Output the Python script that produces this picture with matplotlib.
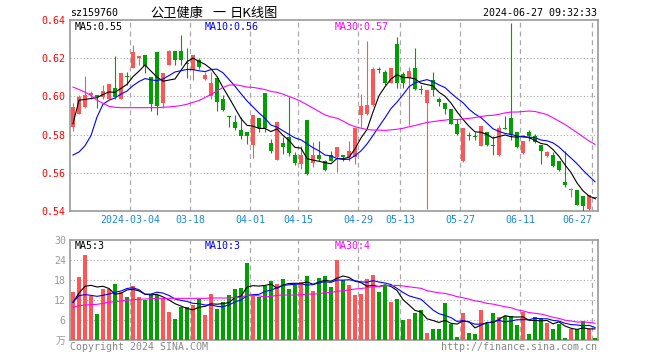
import pandas as pd
import matplotlib
matplotlib.use('Agg')
import matplotlib.pyplot as plt

# Daily K-line data for sz159760, 2024-02-19 .. 2024-06-27 (88 trading days)
opens = [0.5839, 0.5910, 0.5945, 0.6006, 0.6008, 0.5998, 0.5989, 0.6045, 0.5985, 0.6108,
         0.6151, 0.6200, 0.6218, 0.6103, 0.6230, 0.5966, 0.6165, 0.6240, 0.6240, 0.6177,
         0.6138, 0.6191, 0.6089, 0.6003, 0.6098, 0.5989, 0.5897, 0.5866, 0.5825, 0.5811,
         0.5746, 0.5887, 0.6019, 0.5756, 0.5669, 0.5756, 0.5786, 0.5693, 0.5644, 0.5874,
         0.5651, 0.5693, 0.5660, 0.5693, 0.5684, 0.5693, 0.5681, 0.5681, 0.5904, 0.5910,
         0.5954, 0.6142, 0.6130, 0.6068, 0.6274, 0.6116, 0.6094, 0.6151, 0.6038, 0.5966,
         0.6086, 0.5989, 0.5966, 0.5936, 0.5857, 0.5660, 0.5795, 0.5792, 0.5742, 0.5813,
         0.5746, 0.5693, 0.5836, 0.5889, 0.5813, 0.5702, 0.5813, 0.5792, 0.5748, 0.5690,
         0.5695, 0.5660, 0.5552, 0.5512, 0.5510, 0.5478, 0.5413, 0.5473]
highs = [0.5966, 0.6006, 0.6107, 0.6029, 0.6008, 0.6059, 0.6064, 0.6209, 0.6121, 0.6130,
         0.6270, 0.6209, 0.6218, 0.6103, 0.6230, 0.6121, 0.6244, 0.6240, 0.6320, 0.6253,
         0.6218, 0.6200, 0.6130, 0.6130, 0.6098, 0.6006, 0.5897, 0.5901, 0.5892, 0.5811,
         0.5904, 0.5887, 0.6019, 0.5778, 0.5866, 0.5786, 0.5998, 0.5707, 0.5742, 0.5874,
         0.5760, 0.5769, 0.5667, 0.5716, 0.5734, 0.5693, 0.5764, 0.5834, 0.6010, 0.6288,
         0.6156, 0.6152, 0.6138, 0.6151, 0.6311, 0.6130, 0.6156, 0.6253, 0.6059, 0.6033,
         0.6130, 0.5998, 0.5966, 0.5936, 0.5883, 0.5834, 0.5813, 0.5813, 0.5844, 0.5813,
         0.5795, 0.5848, 0.5897, 0.6385, 0.5813, 0.5765, 0.5825, 0.5804, 0.5748, 0.5716,
         0.5707, 0.5660, 0.5716, 0.5522, 0.5510, 0.5478, 0.5482, 0.5473]
lows = [0.5818, 0.5906, 0.5941, 0.5989, 0.5941, 0.5989, 0.5984, 0.5989, 0.5984, 0.6059,
        0.6147, 0.6165, 0.6121, 0.5922, 0.5901, 0.5941, 0.6165, 0.6165, 0.6165, 0.6094,
        0.6086, 0.6142, 0.6086, 0.5989, 0.5922, 0.5922, 0.5839, 0.5822, 0.5778, 0.5751,
        0.5677, 0.5813, 0.5813, 0.5702, 0.5669, 0.5698, 0.5690, 0.5640, 0.5619, 0.5589,
        0.5632, 0.5663, 0.5610, 0.5660, 0.5602, 0.5663, 0.5663, 0.5646, 0.5839, 0.5904,
        0.5948, 0.6124, 0.6059, 0.6068, 0.6042, 0.6042, 0.5848, 0.6033, 0.6012, 0.5413,
        0.6003, 0.5948, 0.5906, 0.5853, 0.5799, 0.5654, 0.5774, 0.5772, 0.5739, 0.5742,
        0.5695, 0.5690, 0.5827, 0.5772, 0.5730, 0.5698, 0.5764, 0.5756, 0.5646, 0.5684,
        0.5628, 0.5607, 0.5526, 0.5475, 0.5431, 0.5399, 0.5403, 0.5461]
closes = [0.5945, 0.5998, 0.6006, 0.6019, 0.5998, 0.6029, 0.6064, 0.5998, 0.6121, 0.6103,
          0.6230, 0.6209, 0.6160, 0.5959, 0.5948, 0.6121, 0.6240, 0.6188, 0.6188, 0.6170,
          0.6218, 0.6152, 0.6112, 0.6068, 0.5971, 0.5927, 0.5892, 0.5834, 0.5795, 0.5795,
          0.5904, 0.5834, 0.5834, 0.5712, 0.5866, 0.5734, 0.5702, 0.5651, 0.5693, 0.5593,
          0.5693, 0.5672, 0.5614, 0.5663, 0.5734, 0.5684, 0.5712, 0.5834, 0.5948, 0.5954,
          0.6144, 0.6138, 0.6068, 0.6151, 0.6068, 0.6068, 0.6135, 0.6038, 0.6035, 0.6033,
          0.6033, 0.5971, 0.5932, 0.5857, 0.5804, 0.5834, 0.5792, 0.5786, 0.5844, 0.5746,
          0.5739, 0.5834, 0.5827, 0.5800, 0.5734, 0.5765, 0.5792, 0.5760, 0.5716, 0.5707,
          0.5633, 0.5616, 0.5535, 0.5517, 0.5434, 0.5426, 0.5482, 0.5466]
# volume in 万
volumes = [14.3, 18.8, 25.4, 13.1, 7.9, 15.4, 15.4, 16.9, 14.4, 13.0,
           16.3, 13.0, 11.9, 13.6, 13.6, 12.6, 8.3, 6.4, 10.0, 10.0,
           10.6, 12.2, 7.6, 13.9, 9.4, 11.5, 13.6, 15.4, 15.7, 23.2,
           13.6, 13.0, 16.3, 17.8, 16.9, 18.4, 15.4, 16.6, 17.5, 19.3,
           14.8, 18.7, 19.3, 16.0, 23.9, 18.1, 16.6, 13.6, 13.9, 18.4,
           19.6, 14.5, 16.3, 11.5, 12.4, 5.9, 6.4, 8.2, 9.1, 2.2,
           3.4, 3.4, 11.2, 4.9, 1.0, 8.2, 2.2, 1.9, 9.1, 4.9,
           8.2, 7.0, 7.3, 7.3, 4.6, 8.5, 1.9, 7.0, 6.7, 5.2,
           3.4, 4.9, 0.7, 3.4, 3.4, 5.8, 3.4, 0.7]

# moving-average values before enough days exist in the window
ma5_head = [0.5857, 0.5980, 0.5984, 0.5989]
ma10_head = [0.5693, 0.5709, 0.5742, 0.5795, 0.5892, 0.5959, 0.5980, 0.5992, 0.6012]
ma30_head = [0.6049, 0.6036, 0.6022, 0.6005, 0.5980, 0.5964, 0.5948, 0.5943, 0.5941, 0.5941,
             0.5941, 0.5941, 0.5941, 0.5941, 0.5941, 0.5943, 0.5945, 0.5948, 0.5952, 0.5959,
             0.5969, 0.5978, 0.5994, 0.6010, 0.6029, 0.6047, 0.6059, 0.6061, 0.6056]
vma5_head = [11.3, 14.1, 16.1, 16.4]
vma10_head = [11.3, 13.3, 13.6, 13.4, 13.1, 13.4, 13.8, 14.3, 14.7]
vma30_head = [9.8, 10.3, 10.5, 10.6, 10.7, 11.0, 11.3, 11.5, 11.7, 11.9,
              12.1, 12.2, 12.3, 12.4, 12.5, 12.5, 12.5, 12.5, 12.5, 12.5,
              12.5, 12.5, 12.5, 12.6, 12.6, 12.6, 12.6, 12.8, 12.8]

date_labels = ['2024-03-04', '03-18', '04-01', '04-15', '04-29', '05-13', '05-27', '06-11', '06-27']
date_index = [10, 20, 30, 38, 48, 55, 65, 75, 87]

UP = '#ff5555'
DOWN = '#00a000'
GRID = '#aaaaaa'
MONO = 'DejaVu Sans Mono'
CJK = ['Noto Sans CJK SC', 'DejaVu Sans']
FS = 7.2


def moving_avg(values, head, n):
    s = pd.Series(values).rolling(n).mean()
    s.iloc[:n - 1] = head
    return s


df = pd.DataFrame({'open': opens, 'high': highs, 'low': lows, 'close': closes, 'vol': volumes})
df['up'] = df['close'] >= df['open']
colors = [UP if u else DOWN for u in df['up']]
x = range(len(df))

W, H = 660, 360
fig = plt.figure(figsize=(W / 100, H / 100), dpi=100)
fig.patch.set_facecolor('white')
ax = fig.add_axes([70 / W, 1 - 211 / H, 528 / W, 191 / H])
axv = fig.add_axes([70 / W, 1 - 340 / H, 528 / W, 100 / H])

# --- price panel ---
body_bottom = df[['open', 'close']].min(axis=1)
body_h = (df['close'] - df['open']).abs().clip(lower=0.0004)
ax.vlines(x, df['low'], df['high'], colors=colors, linewidth=0.8, zorder=3)
ax.bar(x, body_h, bottom=body_bottom, width=0.8, color=colors, linewidth=0, zorder=4)
ax.plot(x, moving_avg(closes, ma5_head, 5), color='black', lw=0.8, zorder=5)
ax.plot(x, moving_avg(closes, ma10_head, 10), color='#0000ff', lw=0.8, zorder=5)
ax.plot(x, moving_avg(closes, ma30_head, 30), color='#ff00ff', lw=0.8, zorder=5)
ax.set_ylim(0.54, 0.64)
ax.set_yticks([0.54, 0.56, 0.58, 0.60, 0.62, 0.64])
ax.set_yticklabels(['0.54', '0.56', '0.58', '0.60', '0.62', '0.64'],
                   color='red', fontsize=FS, family=MONO)
for yv in [0.56, 0.58, 0.60, 0.62]:
    ax.axhline(yv, color=GRID, lw=0.8, ls=(0, (1, 2)), zorder=1)

# --- volume panel ---
axv.bar(x, df['vol'], width=0.8, color=colors, linewidth=0, zorder=3)
axv.plot(x, moving_avg(volumes, vma5_head, 5), color='black', lw=0.8, zorder=5)
axv.plot(x, moving_avg(volumes, vma10_head, 10), color='#0000ff', lw=0.8, zorder=5)
axv.plot(x, moving_avg(volumes, vma30_head, 30), color='#ff00ff', lw=0.8, zorder=5)
axv.set_ylim(0, 30)
axv.set_yticks([0, 6, 12, 18, 24, 30])
axv.set_yticklabels(['万', '6', '12', '18', '24', '30'], color='#999999', fontsize=FS,
                    family=[MONO, 'Noto Sans CJK SC'])
for yv in [6, 12, 18, 24]:
    axv.axhline(yv, color=GRID, lw=0.8, ls=(0, (1, 2)), zorder=1)

for a in (ax, axv):
    a.set_xlim(-0.5, len(df) - 0.5)
    a.tick_params(axis='y', length=0, pad=3)
    a.tick_params(axis='x', length=0)
    for s in a.spines.values():
        s.set_color('#999999')
        s.set_linewidth(1.2)
    for i in date_index:
        a.axvline(i - 0.5, color=GRID, lw=0.9, ls=(0, (4, 3)), zorder=1)

ax.set_xticks([i - 0.5 for i in date_index])
ax.set_xticklabels(date_labels, color='#1a88d8', fontsize=FS, family=MONO)
ax.tick_params(axis='x', pad=3)
ax.get_xticklabels()[-1].set_horizontalalignment('right')
axv.set_xticks([])


def px_text(px, py, s, **kw):
    fig.text(px / W, 1 - py / H, s, va='center', **kw)


# header
px_text(70, 13, 'sz159760', fontsize=FS, family=MONO, color='black')
px_text(150, 13, '公卫健康', fontsize=9.5, family=CJK, color='black')
px_text(212, 13, '一', fontsize=9.5, family=CJK, color='black')
px_text(230, 13, '日K线图', fontsize=9.5, family=CJK, color='black')
px_text(597, 13, '2024-06-27 09:32:33', fontsize=FS, family=MONO, ha='right', color='black')

# legends
px_text(75, 27, 'MA5:0.55', fontsize=FS, family=MONO, color='black')
px_text(205, 27, 'MA10:0.56', fontsize=FS, family=MONO, color='#0000ff')
px_text(335, 27, 'MA30:0.57', fontsize=FS, family=MONO, color='#ff00ff')
px_text(75, 246, 'MA5:3', fontsize=FS, family=MONO, color='black')
px_text(205, 246, 'MA10:3', fontsize=FS, family=MONO, color='#0000ff')
px_text(335, 246, 'MA30:4', fontsize=FS, family=MONO, color='#ff00ff')

# footer
px_text(70, 347, 'Copyright 2024 SINA.COM', fontsize=FS, family=MONO, color='#888888')
px_text(597, 347, 'http://finance.sina.com.cn', fontsize=FS, family=MONO, ha='right', color='#888888')

fig.savefig('out.png', dpi=100)
